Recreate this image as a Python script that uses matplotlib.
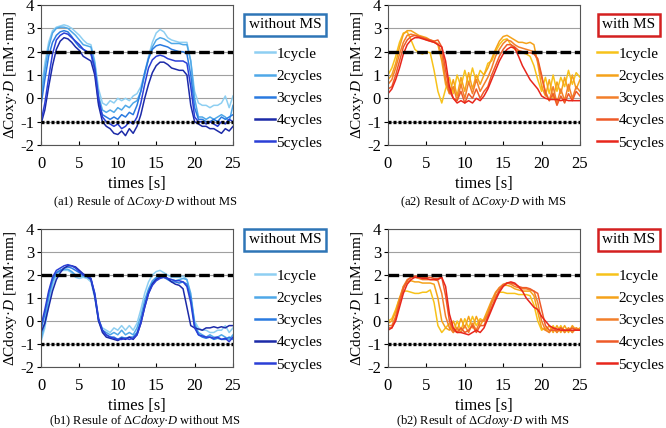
import matplotlib
matplotlib.use('Agg')
import matplotlib.pyplot as plt
import numpy as np

plt.rcParams['font.family'] = ['Liberation Serif', 'DejaVu Serif']
plt.rcParams['mathtext.fontset'] = 'custom'
plt.rcParams['mathtext.rm'] = 'Liberation Serif'
plt.rcParams['mathtext.it'] = 'Liberation Serif:italic'

# time axis, one sample every 0.5 s
TIMES = np.arange(0, 25.01, 0.5)
LABELS = ['1cycle', '2cycles', '3cycles', '4cycles', '5cycles']
BLUES = ['#8ecff2', '#4fa8e8', '#2a7ae0', '#1c2aa8', '#2b3fd6']
REDS = ['#f7c21a', '#f5a21a', '#f27f2a', '#ee5a28', '#e8261c']

coxy_without = [
    [0.3, 1.5, 2.4, 2.9, 3.05, 3.1, 3.15, 3.1, 3.0, 2.85, 2.7, 2.5, 2.35, 2.3, 1.6, 0.4, -0.2, -0.3, -0.1, -0.2,
     0.0, -0.1, 0.0, -0.1, 0.1, 0.2, 0.5, 1.1, 1.8, 2.4, 2.8, 2.95, 2.85, 2.6, 2.5, 2.45, 2.4, 2.4, 2.4, 1.6,
     0.3, -0.2, -0.3, -0.3, -0.4, -0.3, -0.3, -0.2, 0.1, -0.4, 0.1],
    [0.0, 1.2, 2.2, 2.8, 3.0, 3.05, 3.05, 3.0, 2.85, 2.7, 2.5, 2.3, 2.25, 2.2, 1.5, 0.1, -0.5, -0.6, -0.5, -0.6,
     -0.4, -0.5, -0.3, -0.4, -0.2, -0.1, 0.3, 1.0, 1.7, 2.2, 2.5, 2.6, 2.55, 2.45, 2.35, 2.35, 2.35, 2.3, 2.3, 1.6,
     0.0, -0.8, -0.8, -0.9, -0.8, -0.9, -0.8, -0.7, -0.8, -1.0, -0.3],
    [-0.3, 0.8, 1.8, 2.4, 2.7, 2.85, 2.9, 2.85, 2.65, 2.4, 2.2, 2.1, 2.0, 1.9, 1.2, -0.2, -0.7, -0.8, -0.9, -0.8,
     -0.9, -0.7, -0.8, -0.6, -0.7, -0.3, 0.3, 1.1, 1.7, 2.1, 2.25, 2.3, 2.25, 2.2, 2.1, 2.05, 2.0, 2.0, 1.9, 1.0,
     -0.4, -0.9, -0.9, -1.0, -1.0, -0.9, -1.0, -0.8, -0.9, -0.8, -0.7],
    [-1.1, -0.5, 0.5, 1.4, 2.1, 2.45, 2.6, 2.55, 2.4, 2.2, 2.05, 1.8, 1.7, 1.6, 1.0, -0.3, -1.0, -1.2, -1.3, -1.5,
     -1.55, -1.4, -1.6, -1.3, -1.5, -1.2, -0.7, 0.0, 0.6, 1.1, 1.4, 1.55, 1.55, 1.45, 1.3, 1.25, 1.2, 1.2, 1.0, -0.3,
     -1.0, -1.1, -1.2, -1.2, -1.3, -1.3, -1.4, -1.5, -1.3, -1.4, -1.2],
    [-1.0, -0.2, 0.9, 1.9, 2.5, 2.7, 2.8, 2.75, 2.6, 2.45, 2.3, 2.1, 2.0, 1.95, 1.3, 0.0, -0.8, -1.0, -1.1, -1.2,
     -1.1, -1.3, -1.2, -1.0, -1.1, -0.8, -0.2, 0.6, 1.3, 1.65, 1.8, 1.85, 1.8, 1.7, 1.65, 1.6, 1.6, 1.6, 1.5, 0.5,
     -0.8, -1.0, -1.0, -1.1, -1.0, -1.1, -1.2, -1.0, -1.1, -0.9, -1.0],
]

coxy_with = [
    [1.0, 1.3, 1.8, 2.4, 2.8, 2.85, 2.5, 2.1, 1.95, 1.9, 2.0, 1.95, 1.2, 0.3, -0.2, 0.4, 0.9, 0.2, 1.0, 0.5,
     1.2, 0.6, 1.3, 0.7, 1.2, 1.0, 1.5, 1.6, 2.0, 2.3, 2.5, 2.55, 2.3, 2.1, 2.0, 1.95, 1.9, 1.8, 1.4, 0.8,
     0.3, 0.9, 0.2, 1.0, 0.3, 0.9, 0.5, 1.2, 0.6, 1.1, 0.9],
    [0.8, 1.0, 1.5, 2.2, 2.75, 2.9, 2.9, 2.8, 2.7, 2.65, 2.6, 2.5, 2.45, 2.3, 1.6, 0.6, 0.2, 0.8, 0.1, 0.9,
     0.3, 1.1, 0.4, 1.0, 0.6, 1.0, 1.3, 1.7, 2.1, 2.45, 2.65, 2.7, 2.6, 2.5, 2.4, 2.4, 2.35, 2.4, 2.3, 1.5,
     0.5, 0.1, 0.8, 0.0, 0.7, 0.2, 0.9, 0.3, 1.0, 0.4, 0.8],
    [0.6, 0.8, 1.3, 1.9, 2.4, 2.7, 2.75, 2.7, 2.65, 2.6, 2.5, 2.45, 2.4, 2.35, 1.9, 0.8, 0.2, 0.5, -0.1, 0.6,
     0.0, 0.7, 0.2, 0.8, 0.3, 0.6, 0.9, 1.3, 1.8, 2.1, 2.35, 2.5, 2.45, 2.3, 2.2, 2.15, 2.1, 2.05, 2.0, 1.6,
     0.9, 0.3, -0.1, 0.5, -0.2, 0.4, -0.1, 0.6, 0.0, 0.5, 0.3],
    [0.4, 0.5, 1.0, 1.6, 2.2, 2.5, 2.65, 2.7, 2.65, 2.6, 2.55, 2.5, 2.45, 2.5, 2.2, 1.2, 0.3, 0.0, -0.1, 0.3,
     -0.2, 0.2, 0.0, 0.4, 0.0, 0.3, 0.5, 1.0, 1.4, 1.8, 2.1, 2.3, 2.3, 2.2, 2.05, 2.0, 1.95, 1.95, 1.9, 1.7,
     1.0, 0.2, -0.1, 0.2, -0.3, 0.1, -0.2, 0.2, -0.1, 0.3, 0.1],
    [0.2, 0.4, 0.8, 1.3, 1.9, 2.3, 2.5, 2.6, 2.6, 2.55, 2.5, 2.45, 2.4, 2.3, 2.2, 1.6, 0.5, 0.0, -0.2, -0.1,
     -0.2, -0.1, -0.2, 0.0, -0.1, 0.1, 0.4, 0.8, 1.2, 1.6, 1.9, 2.1, 2.2, 2.15, 1.8, 1.4, 1.1, 0.8, 0.6, 0.4,
     0.1, 0.0, -0.05, -0.05, -0.05, -0.1, -0.05, -0.1, -0.1, -0.1, -0.1],
]

cdoxy_without = [
    [-0.9, -0.3, 0.7, 1.5, 2.0, 2.2, 2.2, 2.2, 2.1, 1.9, 1.85, 1.9, 1.85, 1.7, 1.0, 0.0, -0.3, -0.4, -0.5, -0.3,
     -0.4, -0.2, -0.4, -0.2, -0.4, -0.1, 0.5, 1.2, 1.7, 2.0, 2.15, 2.2, 2.1, 2.0, 1.9, 1.9, 1.9, 1.95, 1.8, 1.0,
     0.0, -0.3, -0.4, -0.4, -0.5, -0.5, -0.4, -0.4, -0.2, -0.5, -0.3],
    [-0.8, -0.1, 1.0, 1.7, 2.1, 2.2, 2.25, 2.25, 2.15, 2.0, 1.95, 1.95, 1.9, 1.8, 1.2, 0.1, -0.4, -0.5, -0.6, -0.5,
     -0.6, -0.4, -0.6, -0.5, -0.6, -0.3, 0.2, 0.9, 1.4, 1.75, 1.9, 1.95, 1.9, 1.85, 1.8, 1.75, 1.8, 1.85, 1.8, 1.2,
     -0.1, -0.5, -0.6, -0.7, -0.6, -0.7, -0.7, -0.6, -0.7, -0.8, -0.6],
    [-0.4, 0.3, 1.2, 1.8, 2.1, 2.2, 2.3, 2.35, 2.3, 2.2, 2.1, 2.0, 2.0, 1.85, 1.1, 0.0, -0.4, -0.6, -0.7, -0.7,
     -0.8, -0.7, -0.75, -0.7, -0.7, -0.5, 0.0, 0.7, 1.3, 1.65, 1.85, 1.9, 1.9, 1.8, 1.7, 1.7, 1.65, 1.7, 1.6, 1.0,
     -0.2, -0.6, -0.7, -0.75, -0.7, -0.8, -0.75, -0.8, -0.8, -0.7, -0.8],
    [-0.5, -0.1, 0.6, 1.3, 1.8, 2.1, 2.3, 2.4, 2.4, 2.35, 2.2, 2.05, 1.95, 1.8, 1.1, 0.0, -0.5, -0.7, -0.75, -0.8,
     -0.85, -0.75, -0.8, -0.7, -0.8, -0.6, -0.1, 0.6, 1.2, 1.6, 1.8, 1.9, 1.95, 1.85, 1.7, 1.6, 1.55, 1.4, 0.6, -0.2,
     -0.3, -0.35, -0.4, -0.3, -0.3, -0.25, -0.3, -0.25, -0.3, -0.2, -0.2],
    [-0.2, 0.5, 1.3, 1.9, 2.2, 2.3, 2.4, 2.45, 2.4, 2.3, 2.15, 2.0, 1.95, 1.85, 1.2, 0.1, -0.4, -0.6, -0.7, -0.75,
     -0.8, -0.8, -0.75, -0.8, -0.75, -0.6, -0.1, 0.6, 1.2, 1.55, 1.75, 1.85, 1.9, 1.85, 1.8, 1.75, 1.75, 1.7, 1.5, 0.8,
     -0.3, -0.6, -0.65, -0.7, -0.7, -0.75, -0.7, -0.8, -0.75, -0.9, -0.7],
]

cdoxy_with = [
    [0.0, 0.1, 0.5, 1.0, 1.3, 1.3, 1.25, 1.2, 1.2, 1.25, 1.25, 1.35, 0.8, -0.2, -0.5, -0.3, -0.1, -0.5, 0.0, -0.4,
     0.1, -0.3, 0.2, -0.2, 0.1, 0.0, 0.4, 0.8, 1.1, 1.25, 1.25, 1.2, 1.2, 1.2, 1.15, 1.15, 1.15, 1.1, 0.7, 0.0,
     -0.4, -0.3, -0.5, -0.2, -0.5, -0.2, -0.5, -0.3, -0.5, -0.3, -0.4],
    [-0.1, 0.0, 0.4, 1.0, 1.5, 1.7, 1.75, 1.7, 1.7, 1.65, 1.65, 1.65, 1.6, 1.0, 0.0, -0.3, -0.4, 0.0, -0.4, 0.1,
     -0.3, 0.2, -0.3, 0.2, -0.2, 0.1, 0.5, 0.9, 1.25, 1.45, 1.55, 1.55, 1.5, 1.4, 1.35, 1.3, 1.3, 1.3, 1.1, 0.4,
     -0.3, -0.4, -0.2, -0.5, -0.2, -0.5, -0.2, -0.5, -0.2, -0.4, -0.3],
    [-0.2, -0.2, 0.2, 0.9, 1.5, 1.8, 1.9, 1.9, 1.85, 1.8, 1.8, 1.8, 1.8, 1.75, 1.2, 0.2, -0.3, -0.5, -0.3, -0.5,
     -0.2, -0.5, -0.1, -0.4, 0.0, 0.0, 0.3, 0.8, 1.2, 1.45, 1.6, 1.65, 1.6, 1.5, 1.45, 1.4, 1.4, 1.35, 1.3, 0.8,
     0.0, -0.4, -0.5, -0.3, -0.5, -0.3, -0.5, -0.3, -0.5, -0.3, -0.4],
    [-0.3, -0.3, 0.1, 0.8, 1.4, 1.75, 1.9, 1.95, 1.95, 1.9, 1.9, 1.9, 1.85, 1.85, 1.9, 1.1, 0.0, -0.4, -0.5, -0.3,
     -0.5, -0.4, -0.2, -0.5, -0.2, -0.2, 0.2, 0.6, 1.0, 1.35, 1.55, 1.65, 1.65, 1.6, 1.5, 1.45, 1.45, 1.4, 1.3, 1.2,
     0.5, -0.2, -0.4, -0.4, -0.4, -0.3, -0.4, -0.4, -0.3, -0.4, -0.4],
    [-0.4, -0.3, 0.0, 0.6, 1.2, 1.6, 1.8, 1.9, 1.9, 1.85, 1.85, 1.8, 1.8, 1.8, 1.9, 1.5, 0.3, -0.3, -0.5, -0.5,
     -0.55, -0.6, -0.5, -0.4, -0.5, -0.3, 0.1, 0.5, 0.9, 1.25, 1.5, 1.65, 1.7, 1.65, 1.5, 1.3, 1.0, 0.8, 0.6, 0.5,
     0.2, 0.0, -0.2, -0.3, -0.35, -0.4, -0.4, -0.4, -0.4, -0.4, -0.4],
]

W, H = 666, 428


def px_axes(fig, left, top, right, bottom):
    return fig.add_axes([left / W, 1 - bottom / H, (right - left) / W, (bottom - top) / H])


def draw_panel(fig, ax, series, colors, ylabel, caption, tag, tag_color, leg_x, leg_top, tag_xy, cap_xy):
    for vals, col, lab in zip(series, colors, LABELS):
        ax.plot(TIMES, vals, color=col, lw=1.1, label=lab)
    ax.axhline(2, color='black', lw=2.4, linestyle=(0, (3.2, 1.1)), zorder=3)
    ax.axhline(-1, color='black', lw=2.4, linestyle=(0, (0.9, 0.6)), zorder=3)
    ax.set_xlim(0, 25)
    ax.set_ylim(-2, 4)
    ax.set_xticks([0, 5, 10, 15, 20, 25])
    ax.set_yticks([-2, -1, 0, 1, 2, 3, 4])
    ax.set_yticklabels(['-2', '-1', '0', '1', '2', '3', '4'])
    ax.yaxis.grid(True, color='#a0a0a0', lw=0.8)
    ax.set_axisbelow(True)
    ax.tick_params(axis='x', direction='in', length=3, labelsize=12, pad=8)
    ax.tick_params(axis='y', direction='out', length=3, labelsize=12, pad=2)
    for sp in ax.spines.values():
        sp.set_color('#555555')
        sp.set_linewidth(0.8)
    ax.set_xlabel('times [s]', fontsize=12, labelpad=3)
    ax.set_ylabel(ylabel, fontsize=11, labelpad=0.5)

    leg = ax.legend(loc='upper left', bbox_to_anchor=(leg_x / W, 1 - leg_top / H),
                    bbox_transform=fig.transFigure, frameon=False, fontsize=11,
                    handlelength=1.3, handletextpad=0.1, labelspacing=0.56,
                    borderpad=0, borderaxespad=0)
    for line in leg.get_lines():
        line.set_linewidth(1.8)
    fig.text(tag_xy[0] / W, 1 - tag_xy[1] / H, tag, fontsize=11, ha='center', va='center',
             bbox=dict(boxstyle='square,pad=0.3', fc='white', ec=tag_color, lw=1.8))
    fig.text(cap_xy[0] / W, 1 - cap_xy[1] / H, caption, fontsize=9, ha='center', va='center')


fig = plt.figure(figsize=(W / 100, H / 100), dpi=100)

ax_a1 = px_axes(fig, 41, 5, 233, 145)
ax_a2 = px_axes(fig, 388, 5, 580, 145)
ax_b1 = px_axes(fig, 41, 229, 233, 367)
ax_b2 = px_axes(fig, 388, 229, 580, 367)

draw_panel(fig, ax_a1, coxy_without, BLUES, 'ΔCoxy·$\\mathit{D}$ [mM·mm]',
           '(a1) Resule of Δ$\\mathit{Coxy}$·$\\mathit{D}$ without MS', 'without MS', '#2e75b6',
           255, 47, (285, 25), (145, 202))
draw_panel(fig, ax_a2, coxy_with, REDS, 'ΔCoxy·$\\mathit{D}$ [mM·mm]',
           '(a2) Result of Δ$\\mathit{Coxy}$·$\\mathit{D}$ with MS', 'with MS', '#d42020',
           597, 47, (629, 25), (483, 202))
draw_panel(fig, ax_b1, cdoxy_without, BLUES, 'ΔCdoxy·$\\mathit{D}$ [mM·mm]',
           '(b1) Resule of Δ$\\mathit{Cdoxy}$·$\\mathit{D}$ without MS', 'without MS', '#2e75b6',
           255, 269, (285, 240), (145, 421))
draw_panel(fig, ax_b2, cdoxy_with, REDS, 'ΔCdoxy·$\\mathit{D}$ [mM·mm]',
           '(b2) Result of Δ$\\mathit{Cdoxy}$·$\\mathit{D}$ with MS', 'with MS', '#d42020',
           597, 269, (629, 240), (483, 421))

fig.savefig('out.png', dpi=100)
